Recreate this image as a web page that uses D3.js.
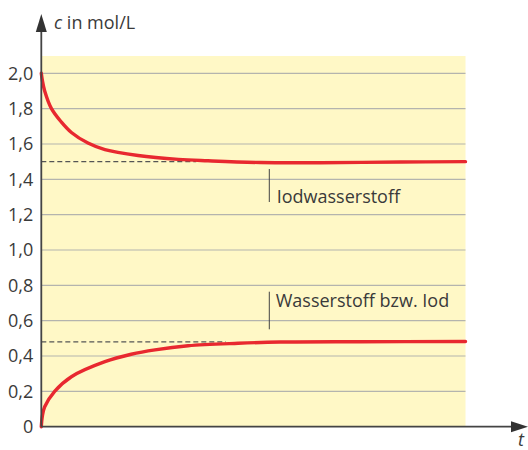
<!DOCTYPE html>
<html>
<head>
<meta charset="utf-8">
<script src="https://cdn.jsdelivr.net/npm/d3@7"></script>
<style>
  body { margin: 0; background: #fff; }
  svg text { font-family: "Open Sans", sans-serif; fill: #3a3a3a; }
</style>
</head>
<body>
<div id="chart"></div>
<script>
const width = 528;
const height = 450;

// time in percent of the plotted span
var tIod = [0, 0.25, 0.8, 2.4, 4.7, 7.1, 11, 15, 22.8, 32.3, 39.3, 51.6, 65.8, 84.7, 100];
var cIod = [2.0, 1.96, 1.90, 1.80, 1.725, 1.665, 1.605, 1.568, 1.535, 1.513, 1.505, 1.495, 1.494, 1.498, 1.50];

var tH2 = [0, 0.25, 0.8, 3.15, 7.1, 15, 21.2, 26.8, 34.6, 46.4, 56.3, 75, 100];
var cH2 = [0, 0.06, 0.113, 0.2, 0.283, 0.368, 0.41, 0.435, 0.458, 0.472, 0.479, 0.481, 0.482];

var yTicks = [0, 0.2, 0.4, 0.6, 0.8, 1.0, 1.2, 1.4, 1.6, 1.8, 2.0];

// equilibrium values (dashed) and where they end
var eqValues = [1.5, 0.48];
var eqEnds = [36.5, 43.5];

var labels = ["Iodwasserstoff", "Wasserstoff bzw. Iod"];

var x0 = 41.3, x1 = 465.5, y0 = 426.7, yTop = 56;

var xScale = d3.scaleLinear().domain([0, 100]).range([x0, x1]);
var yScale = d3.scaleLinear().domain([0, 2]).range([y0, 73.3]);

var svg = d3.select("#chart").
append("svg").
attr("width", width).
attr("height", height);

// yellow plot area
svg.append("rect").
attr("x", x0).
attr("y", yTop).
attr("width", x1 - x0).
attr("height", y0 - yTop).
attr("fill", "#fff8c6");

// gridlines
svg.selectAll("line.grid").
data(yTicks.filter(d => d > 0)).
enter().
append("line").
attr("class", "grid").
attr("x1", x0).
attr("x2", x1).
attr("y1", d => yScale(d)).
attr("y2", d => yScale(d)).
attr("stroke", "#b4b4ae").
attr("stroke-width", 1.2);

// dashed equilibrium lines
svg.selectAll("line.eq").
data(eqValues).
enter().
append("line").
attr("class", "eq").
attr("x1", x0).
attr("x2", (d, i) => xScale(eqEnds[i])).
attr("y1", d => yScale(d)).
attr("y2", d => yScale(d)).
attr("stroke", "#555").
attr("stroke-width", 1.2).
attr("stroke-dasharray", "5,3");

// curves
var line = d3.line().
x(d => xScale(d[0])).
y(d => yScale(d[1])).
curve(d3.curveCatmullRom.alpha(0.5));

[d3.zip(tIod, cIod), d3.zip(tH2, cH2)].forEach(pts => {
  svg.append("path").
  datum(pts).
  attr("d", line).
  attr("fill", "none").
  attr("stroke", "#e8282f").
  attr("stroke-width", 3.4).
  attr("stroke-linecap", "round");
});

// y axis labels
var yAxis = d3.axisLeft(yScale).
tickValues(yTicks).
tickFormat(d => d === 0 ? "0" : d.toFixed(1).replace(".", ",")).
tickSize(0).
tickPadding(8);

var gy = svg.append("g").
attr("transform", "translate(" + x0 + ",0)").
call(yAxis);
gy.select(".domain").remove();
gy.selectAll("text").
attr("font-size", 18).
attr("font-family", "Open Sans").
attr("fill", "#3a3a3a");

// axes with arrows
svg.append("line").
attr("x1", x0).attr("x2", x0).
attr("y1", y0).attr("y2", 28).
attr("stroke", "#444").attr("stroke-width", 1.8);
svg.append("path").
attr("d", "M" + x0 + ",14 L" + (x0 - 5.5) + ",32 L" + (x0 + 5.5) + ",32 Z").
attr("fill", "#333");

svg.append("line").
attr("x1", x0).attr("x2", 514).
attr("y1", y0).attr("y2", y0).
attr("stroke", "#444").attr("stroke-width", 1.8);
svg.append("path").
attr("d", "M528," + y0 + " L511," + (y0 - 5.5) + " L511," + (y0 + 5.5) + " Z").
attr("fill", "#333");

// axis titles
var yt = svg.append("text").
attr("x", 54).
attr("y", 29.3).
attr("font-size", 18);
yt.append("tspan").attr("font-style", "italic").text("c");
yt.append("tspan").text(" in mol/L");

svg.append("text").
attr("x", 518).
attr("y", 446).
attr("font-size", 18).
attr("font-style", "italic").
text("t");

// curve labels with small marker lines
var labelY = [202.7, 306.7];
var markTop = [169, 291.7];
var markBot = [202, 329.3];
var labelX = [276.7, 275.7];

labels.forEach((lab, i) => {
  svg.append("line").
  attr("x1", 269.3).attr("x2", 269.3).
  attr("y1", markTop[i]).attr("y2", markBot[i]).
  attr("stroke", "#444").attr("stroke-width", 1);
  svg.append("text").
  attr("x", labelX[i]).
  attr("y", labelY[i]).
  attr("font-size", 18).
  text(lab);
});
</script>
</body>
</html>
